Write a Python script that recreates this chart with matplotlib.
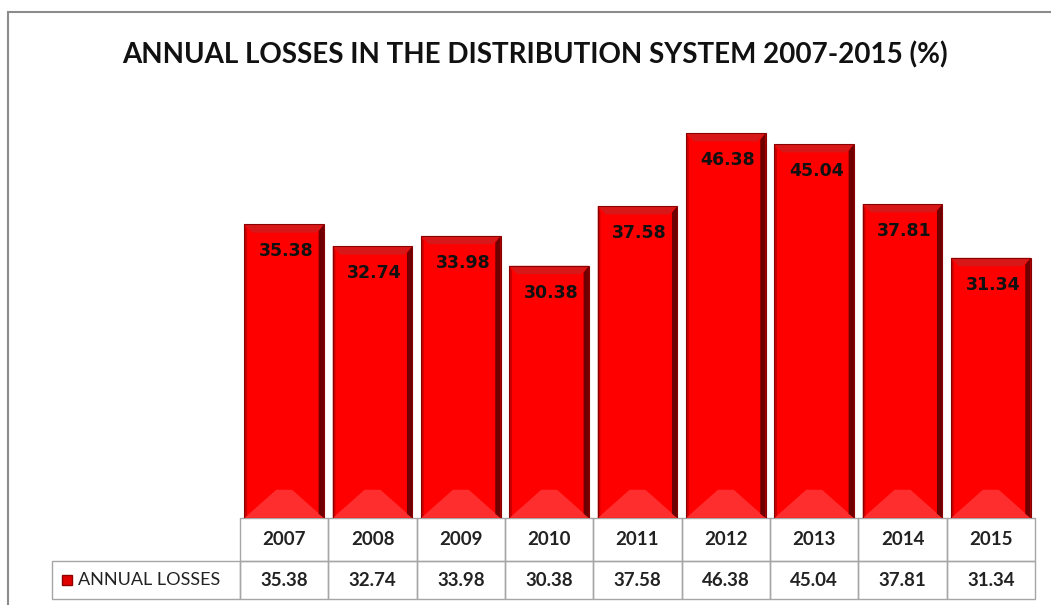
import matplotlib
matplotlib.use("Agg")
import matplotlib.pyplot as plt
from matplotlib.patches import Rectangle, Polygon

years = ['2007', '2008', '2009', '2010', '2011', '2012', '2013', '2014', '2015']
losses = [35.38, 32.74, 33.98, 30.38, 37.58, 46.38, 45.04, 37.81, 31.34]
series_name = 'ANNUAL LOSSES'
title = 'ANNUAL LOSSES IN THE DISTRIBUTION SYSTEM 2007-2015 (%)'

plt.rcParams['font.family'] = ['Lato', 'DejaVu Sans']

fig = plt.figure(figsize=(10.51, 6.05), dpi=100)
ax = fig.add_axes([240 / 1051, 87 / 605, 795 / 1051, 415 / 605])

bw = 0.9
x = list(range(len(years)))
ax.bar(x, losses, width=bw, color='#FF0000', edgecolor='none', zorder=2)

# bevel look, worked out from each bar
for i, v in zip(x, losses):
    l, r = i - bw / 2, i + bw / 2
    # bottom light trapezoid
    ax.add_patch(Polygon([(l, 0), (r, 0), (r - 0.36, 3.4), (l + 0.36, 3.4)],
                         closed=True, color='#FF2E2E', lw=0, zorder=3))
    # top darker band
    ax.add_patch(Polygon([(l, v), (r, v), (r - 0.09, v - 1.0), (l + 0.09, v - 1.0)],
                         closed=True, color='#D81818', lw=0, zorder=3))
    # right dark edge
    ax.add_patch(Polygon([(r, 0), (r, v), (r - 0.06, v - 0.8), (r - 0.06, 0.5)],
                         closed=True, color='#6E0000', lw=0, zorder=3))
    # left slight shade
    ax.add_patch(Polygon([(l, 0), (l, v), (l + 0.03, v - 0.6), (l + 0.03, 0.3)],
                         closed=True, color='#C80000', lw=0, zorder=3))
    ax.add_patch(Rectangle((l, 0), bw, v, fill=False, ec='#8A0000', lw=0.8, zorder=4))
    ax.annotate(f'{v:.2f}', (i, v), xytext=(2, -27), textcoords='offset pixels',
                ha='center', va='center', fontsize=12.5, fontweight='bold',
                family='DejaVu Sans', color='#111111', zorder=5)

ax.set_xlim(-0.5, len(years) - 0.5)
ax.set_ylim(0, 50)
ax.axis('off')

# data table below the bars
grid = '#A6A6A6'
r1, r2 = -5.2, -9.75
for i, (yr, v) in enumerate(zip(years, losses)):
    ax.add_patch(Rectangle((i - 0.5, r1), 1, -r1, fill=False, ec=grid, lw=1, clip_on=False))
    ax.add_patch(Rectangle((i - 0.5, r2), 1, r1 - r2, fill=False, ec=grid, lw=1, clip_on=False))
    ax.text(i, r1 / 2, yr, ha='center', va='center', fontsize=13.5,
            fontweight='bold', color='#222222', clip_on=False)
    ax.text(i, (r1 + r2) / 2, f'{v:.2f}', ha='center', va='center', fontsize=13.5,
            fontweight='bold', color='#222222', clip_on=False)
lab_l = (52 - 240) / 88.3 - 0.5
ax.add_patch(Rectangle((lab_l, r2), -0.5 - lab_l, r1 - r2, fill=False, ec=grid, lw=1,
                       clip_on=False))
ax.plot([lab_l + 0.17], [(r1 + r2) / 2], marker='s', ms=7, color='#E00000',
        mec='#900000', clip_on=False)
ax.text(lab_l + 0.29, (r1 + r2) / 2, series_name, ha='left', va='center',
        fontsize=13, color='#222222', clip_on=False)

fig.text(535 / 1051, 1 - 55 / 605, title, ha='center', va='center',
         fontsize=20, fontweight='bold', color='#111111')

fig.add_artist(Rectangle((8 / 1051, -0.05), 1.1, 1 - 12 / 605 + 0.05, fill=False,
                         ec='#8C8C8C', lw=1.5, transform=fig.transFigure))

fig.savefig('out.png', dpi=100)
